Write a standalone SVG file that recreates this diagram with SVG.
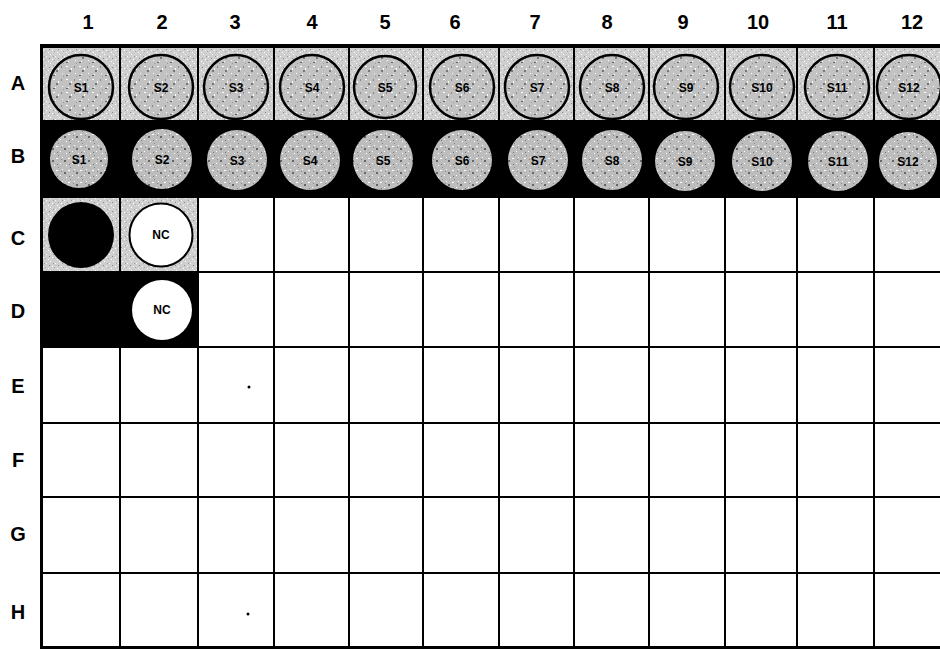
<svg xmlns="http://www.w3.org/2000/svg" width="940" height="649" viewBox="0 0 940 649">
<style>
.lbl{font-family:"Liberation Sans",Arial,sans-serif;font-weight:bold;font-size:20px;fill:#000;text-anchor:middle}
.wl{font-family:"Liberation Sans",Arial,sans-serif;font-weight:bold;font-size:12px;fill:#000;text-anchor:middle}
.grid{stroke:#000;stroke-width:2;fill:none}
.wa{fill:url(#mot);stroke:#000;stroke-width:2.5}
.wb{fill:url(#mot2)}
</style>
<defs>
<pattern id="stip" width="9" height="9" patternUnits="userSpaceOnUse">
<rect width="9" height="9" fill="#cfcfcf"/>
<rect x="1" y="2" width="1" height="1" fill="#fff"/>
<rect x="5" y="0" width="1" height="1" fill="#fff"/>
<rect x="7" y="5" width="1" height="1" fill="#fff"/>
<rect x="3" y="7" width="1" height="1" fill="#fff"/>
<rect x="4" y="4" width="1" height="1" fill="#888"/>
<rect x="8" y="2" width="1" height="1" fill="#999"/>
<rect x="0" y="6" width="1" height="1" fill="#aaa"/>
</pattern>
<pattern id="mot" width="13" height="13" patternUnits="userSpaceOnUse">
<rect width="13" height="13" fill="#c2c2c2"/>
<rect x="1" y="1" width="2" height="1" fill="#fff"/>
<rect x="6" y="3" width="1" height="2" fill="#fff"/>
<rect x="10" y="8" width="1" height="1" fill="#fff"/>
<rect x="3" y="9" width="1" height="1" fill="#fff"/>
<rect x="4" y="5" width="2" height="2" fill="#777"/>
<rect x="9" y="1" width="1" height="2" fill="#888"/>
<rect x="1" y="10" width="2" height="1" fill="#666"/>
<rect x="11" y="11" width="1" height="1" fill="#999"/>
</pattern>
<pattern id="mot2" width="12" height="12" patternUnits="userSpaceOnUse">
<rect width="12" height="12" fill="#bdbdbd"/>
<rect x="2" y="1" width="1" height="1" fill="#fff"/>
<rect x="8" y="2" width="2" height="1" fill="#fff"/>
<rect x="0" y="7" width="1" height="1" fill="#fff"/>
<rect x="6" y="9" width="1" height="1" fill="#fff"/>
<rect x="4" y="4" width="2" height="2" fill="#666"/>
<rect x="9" y="8" width="1" height="1" fill="#777"/>
<rect x="1" y="3" width="1" height="1" fill="#888"/>
<rect x="10" y="11" width="1" height="1" fill="#888"/>
</pattern>
</defs>
<rect width="940" height="649" fill="#fff"/>

<g id="col-labels">
<text class="lbl" x="88" y="29">1</text>
<text class="lbl" x="162" y="29">2</text>
<text class="lbl" x="235" y="29">3</text>
<text class="lbl" x="312" y="29">4</text>
<text class="lbl" x="385" y="29">5</text>
<text class="lbl" x="455" y="29">6</text>
<text class="lbl" x="535" y="29">7</text>
<text class="lbl" x="607" y="29">8</text>
<text class="lbl" x="683" y="29">9</text>
<text class="lbl" x="758" y="29">10</text>
<text class="lbl" x="837" y="29">11</text>
<text class="lbl" x="912" y="29">12</text>
</g>
<g id="row-labels">
<text class="lbl" x="18" y="90">A</text>
<text class="lbl" x="18" y="163">B</text>
<text class="lbl" x="18" y="245">C</text>
<text class="lbl" x="18" y="318">D</text>
<text class="lbl" x="18" y="393">E</text>
<text class="lbl" x="18" y="467">F</text>
<text class="lbl" x="18" y="541">G</text>
<text class="lbl" x="18" y="619">H</text>
</g>

<g id="backgrounds">
<rect x="40" y="46" width="900" height="74" fill="url(#stip)"/>
<rect x="40" y="120" width="900" height="77" fill="#000"/>
<rect x="40" y="197" width="158" height="75" fill="url(#stip)"/>
<rect x="40" y="272" width="158" height="75" fill="#000"/>
</g>

<g id="grid">
<path class="grid" d="M120 46V120M198 46V120M274 46V120M349 46V120M423 46V120M499 46V120M574 46V120M649 46V120M725 46V120M797 46V120M874 46V120"/>
<path class="grid" d="M120 197V647M198 197V647M274 197V647M349 197V647M423 197V647M499 197V647M574 197V647M649 197V647M725 197V647M797 197V647M874 197V647"/>
<path class="grid" d="M40 197H940M40 272H940M40 347H940M40 423H940M40 497H940M40 573H940"/>
<path d="M40 46H940" stroke="#000" stroke-width="4"/>
<path d="M41.5 44V649" stroke="#000" stroke-width="3"/>
<path d="M40 647.5H940" stroke="#000" stroke-width="3"/>
</g>

<g id="row-A">
<g id="A1"><circle class="wa" cx="81" cy="87" r="32"/><text class="wl" x="81" y="92">S1</text></g>
<g id="A2"><circle class="wa" cx="161" cy="87" r="32"/><text class="wl" x="161" y="92">S2</text></g>
<g id="A3"><circle class="wa" cx="236" cy="87" r="32"/><text class="wl" x="236" y="92">S3</text></g>
<g id="A4"><circle class="wa" cx="312" cy="87" r="32"/><text class="wl" x="312" y="92">S4</text></g>
<g id="A5"><circle class="wa" cx="385" cy="87" r="31"/><text class="wl" x="385" y="92">S5</text></g>
<g id="A6"><circle class="wa" cx="462" cy="87" r="32"/><text class="wl" x="462" y="92">S6</text></g>
<g id="A7"><circle class="wa" cx="537" cy="87" r="32"/><text class="wl" x="537" y="92">S7</text></g>
<g id="A8"><circle class="wa" cx="612" cy="87" r="32"/><text class="wl" x="612" y="92">S8</text></g>
<g id="A9"><circle class="wa" cx="686" cy="87" r="32"/><text class="wl" x="686" y="92">S9</text></g>
<g id="A10"><circle class="wa" cx="762" cy="87" r="32"/><text class="wl" x="762" y="92">S10</text></g>
<g id="A11"><circle class="wa" cx="837" cy="87" r="32"/><text class="wl" x="837" y="92">S11</text></g>
<g id="A12"><circle class="wa" cx="909" cy="87" r="32"/><text class="wl" x="909" y="92">S12</text></g>
</g>

<g id="row-B">
<g id="B1"><circle class="wb" cx="79" cy="159" r="29"/><text class="wl" x="79" y="164">S1</text></g>
<g id="B2"><circle class="wb" cx="162" cy="159" r="30"/><text class="wl" x="162" y="164">S2</text></g>
<g id="B3"><circle class="wb" cx="237" cy="160" r="30"/><text class="wl" x="237" y="165">S3</text></g>
<g id="B4"><circle class="wb" cx="310" cy="160" r="30"/><text class="wl" x="310" y="165">S4</text></g>
<g id="B5"><circle class="wb" cx="383" cy="160" r="30"/><text class="wl" x="383" y="165">S5</text></g>
<g id="B6"><circle class="wb" cx="462" cy="160" r="30"/><text class="wl" x="462" y="165">S6</text></g>
<g id="B7"><circle class="wb" cx="538" cy="160" r="30"/><text class="wl" x="538" y="165">S7</text></g>
<g id="B8"><circle class="wb" cx="612" cy="160" r="30"/><text class="wl" x="612" y="165">S8</text></g>
<g id="B9"><circle class="wb" cx="685" cy="161" r="30"/><text class="wl" x="685" y="166">S9</text></g>
<g id="B10"><circle class="wb" cx="762" cy="161" r="30"/><text class="wl" x="762" y="166">S10</text></g>
<g id="B11"><circle class="wb" cx="838" cy="161" r="30"/><text class="wl" x="838" y="166">S11</text></g>
<g id="B12"><circle class="wb" cx="908" cy="161" r="29"/><text class="wl" x="908" y="166">S12</text></g>
</g>

<g id="C1"><circle cx="81" cy="235" r="33" fill="#000"/></g>
<g id="C2"><circle cx="161" cy="235" r="31.5" fill="#fff" stroke="#000" stroke-width="2"/><text class="wl" x="161" y="239">NC</text></g>
<g id="D2"><circle cx="162" cy="310" r="30" fill="#fff"/><text class="wl" x="162" y="314">NC</text></g>

<g id="marks">
<circle cx="249" cy="387" r="1.5" fill="#000"/>
<circle cx="248" cy="614" r="1.5" fill="#000"/>
</g>
<g id="connectors"/>
</svg>
